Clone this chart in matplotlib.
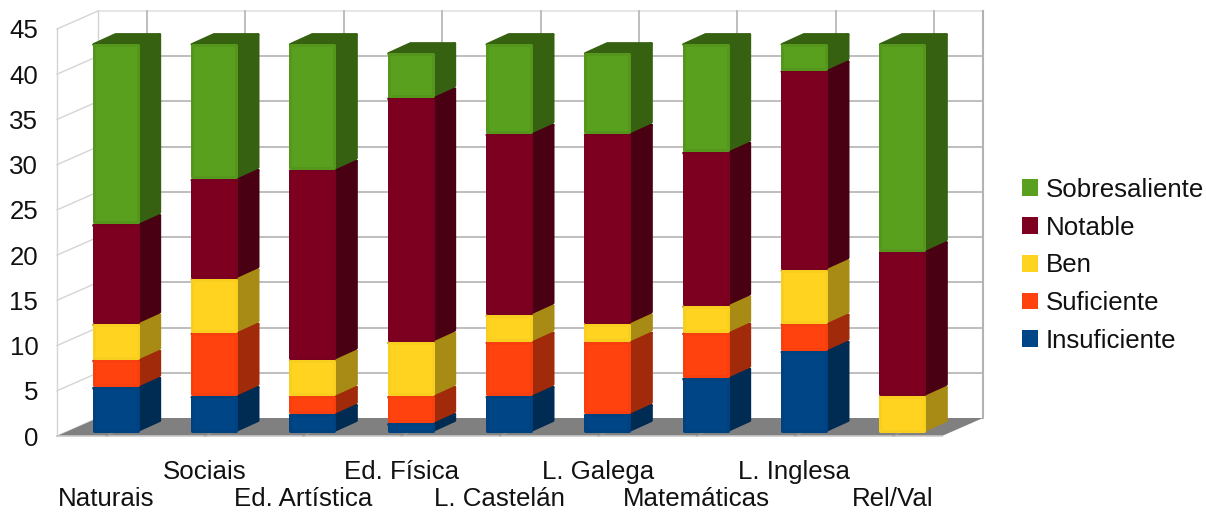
import matplotlib
matplotlib.use("Agg")
import matplotlib.pyplot as plt
from matplotlib.patches import Patch, Polygon

plt.rcParams['font.family'] = ['Liberation Sans', 'DejaVu Sans']

categories = ["Naturais", "Sociais", "Ed. Artística", "Ed. Física", "L. Castelán",
              "L. Galega", "Matemáticas", "L. Inglesa", "Rel/Val"]
insuficiente = [5, 4, 2, 1, 4, 2, 6, 9, 0]
suficiente = [3, 7, 2, 3, 6, 8, 5, 3, 0]
ben = [4, 6, 4, 6, 3, 2, 3, 6, 4]
notable = [11, 11, 21, 27, 20, 21, 17, 22, 16]
sobresaliente = [20, 15, 14, 5, 10, 9, 12, 3, 23]
yticks = [0, 5, 10, 15, 20, 25, 30, 35, 40, 45]

series = [
    ("Insuficiente", insuficiente, "#004586", "#002b53", "#004280"),
    ("Suficiente", suficiente, "#ff420e", "#a02a09", "#f8400e"),
    ("Ben", ben, "#ffd320", "#a88b15", "#f8ce1f"),
    ("Notable", notable, "#7e0021", "#4a0013", "#790020"),
    ("Sobresaliente", sobresaliente, "#5aa01f", "#356111", "#54971c"),
]

W, H = 1206, 512
L, R, T, B = 57, 942, 29, 436
fig = plt.figure(figsize=(W / 100, H / 100), dpi=100)
ax = fig.add_axes([L / W, (H - B) / H, (R - L) / W, (B - T) / H])
n = len(categories)
ax.set_xlim(-0.5, n - 0.5)
ax.set_ylim(0, 45)
for s in ax.spines.values():
    s.set_visible(False)

px_x = n / (R - L)         # data units per pixel, x
px_y = 45 / (B - T)        # data units per pixel, y
DX, DY = 41 * px_x, 18 * px_y            # depth of the chart box
bdx, bdy = 22 * px_x, 10 * px_y          # depth of a bar
ox, oy = 9.5 * px_x, 4 * px_y            # bar front offset inside the box
bw = 47 * px_x
inx, iny = 1.5 * px_x, 1.5 * px_y        # inset compensating the rounded outline
LW = 2.16                                # 3 px outline with round joins

wall = "#b3b3b3"
side_wall = "#d4d4d4"
# floor
ax.add_patch(Polygon([(-0.5, 0), (-0.5 + DX, DY), (n - 0.5 + DX, DY), (n - 0.5, 0)],
                     closed=True, fc="#808080", ec="none", clip_on=False, zorder=2))
# back wall grid
for v in yticks:
    c = "#e2e2e2" if v == 45 else wall
    if v > 0:
        ax.plot([-0.5 + DX, n - 0.5 + DX], [v + DY, v + DY], color=c, lw=1.2, clip_on=False, zorder=1)
    ax.plot([-0.5, -0.5 + DX], [v, v + DY], color=side_wall, lw=1.0, clip_on=False, zorder=1)
for i in range(n):
    ax.plot([i + DX, i + DX], [DY, 45 + DY], color=wall, lw=1.2, clip_on=False, zorder=1)
    ax.plot([i, i + DX * 0.5], [0, DY * 0.5], color="#9a9a9a", lw=0.7, clip_on=False, zorder=2.5)
ax.plot([-0.5 + DX] * 2, [0 + DY, 45 + DY], color=side_wall, lw=1.0, clip_on=False, zorder=1)
ax.plot([-0.5, -0.5], [0, 45], color=side_wall, lw=1.0, clip_on=False, zorder=1)
ax.plot([n - 0.5 + DX] * 2, [DY, 45 + DY], color=wall, lw=1.5, clip_on=False, zorder=1)
ax.plot([-0.5, n - 0.5], [0, 0], color="#c8c8c8", lw=1.2, clip_on=False, zorder=2.4)

# stacked 3D bars
bottoms = [0] * n
z = 3
for name, vals, col, dark, edge in series:
    for i, v in enumerate(vals):
        if v == 0:
            continue
        b = bottoms[i] + oy + iny
        t = bottoms[i] + oy + v - iny
        x0 = i + ox - bw / 2 + inx
        x1 = i + ox + bw / 2 - inx
        ax.add_patch(Polygon([(x1, b), (x1 + bdx, b + bdy), (x1 + bdx, t + bdy), (x1, t)],
                             closed=True, fc=dark, ec=dark, lw=LW, joinstyle="round",
                             clip_on=False, zorder=z))
        ax.add_patch(Polygon([(x0, t), (x1, t), (x1 + bdx, t + bdy), (x0 + bdx, t + bdy)],
                             closed=True, fc=dark, ec=dark, lw=LW, joinstyle="round",
                             clip_on=False, zorder=z))
        ax.bar(i + ox, v - 2 * iny, bw - 2 * inx, bottom=b, color=col, edgecolor=edge,
               linewidth=LW, joinstyle="round", clip_on=False, zorder=z + 0.5)
    bottoms = [a + c for a, c in zip(bottoms, vals)]
    z += 1

FS = 18.6
ax.set_yticks(yticks)
ax.set_yticklabels([str(v) for v in yticks], fontsize=FS, color="#111111")
ax.tick_params(axis="y", length=0, pad=13.5)
ax.set_xticks(range(n))
ax.set_xticklabels(categories, fontsize=FS, color="#111111")
ax.tick_params(axis="x", length=0)
for i, tick in enumerate(ax.xaxis.get_major_ticks()):
    tick.set_pad(37 if i % 2 == 0 else 17.5)

handles = [Patch(fc=c, ec="none", label=nm) for nm, _, c, _, _ in reversed(series)]
fig.legend(handles=handles, loc="upper left", bbox_to_anchor=(1022 / W, (H - 178) / H),
           frameon=False, fontsize=FS, handlelength=0.63, handleheight=0.63,
           handletextpad=0.30, labelspacing=0.53, borderpad=0, borderaxespad=0,
           labelcolor="#111111")

fig.savefig("out.png", dpi=100, facecolor="white")
